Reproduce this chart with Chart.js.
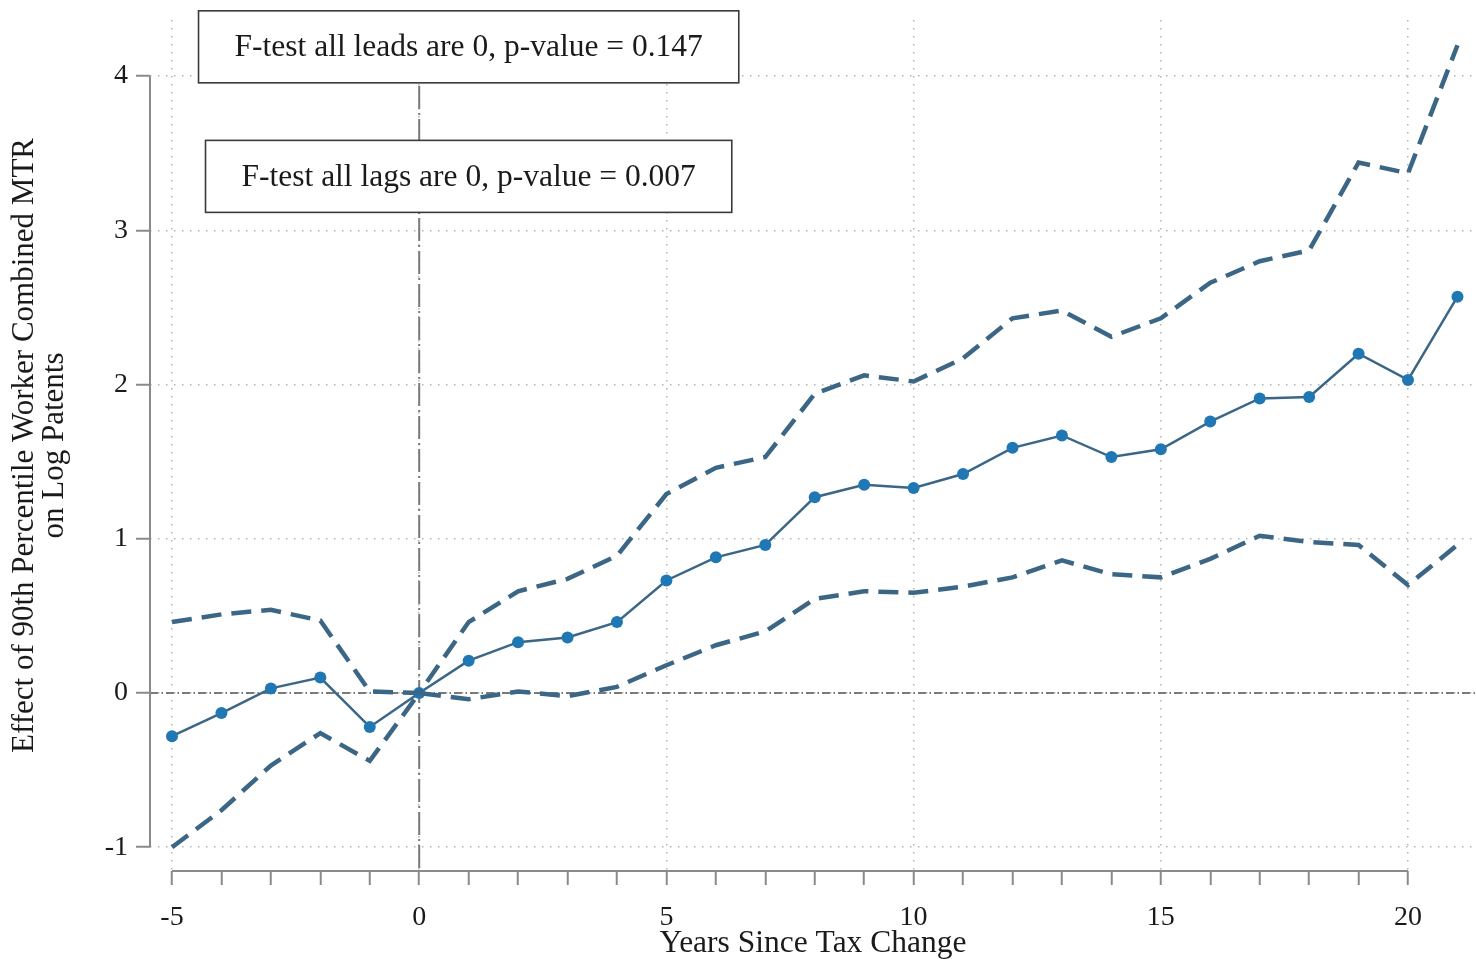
<!DOCTYPE html>
<html>
<head>
<meta charset="utf-8">
<script src="https://cdn.jsdelivr.net/npm/chart.js@4"></script>
<style>
  html, body { margin: 0; padding: 0; background: #ffffff; }
  canvas { display: block; }
</style>
</head>
<body>
<canvas id="chart" width="1476" height="959"></canvas>
<script>
// Event-study estimates: effect of the 90th percentile worker's combined MTR on log patents
const years = [-5, -4, -3, -2, -1, 0, 1, 2, 3, 4, 5, 6, 7, 8, 9, 10, 11, 12, 13, 14, 15, 16, 17, 18, 19, 20, 21];
const estimate = [-0.28, -0.13, 0.03, 0.10, -0.22, 0.00, 0.21, 0.33, 0.36, 0.46, 0.73, 0.88, 0.96, 1.27, 1.35, 1.33, 1.42, 1.59, 1.67, 1.53, 1.58, 1.76, 1.91, 1.92, 2.20, 2.03, 2.57];
const upperCI = [0.46, 0.51, 0.54, 0.47, 0.01, 0.00, 0.46, 0.66, 0.74, 0.89, 1.29, 1.46, 1.53, 1.94, 2.06, 2.02, 2.17, 2.43, 2.48, 2.31, 2.43, 2.66, 2.80, 2.87, 3.44, 3.37, 4.20];
const lowerCI = [-1.00, -0.76, -0.47, -0.26, -0.44, 0.00, -0.04, 0.01, -0.02, 0.04, 0.18, 0.31, 0.40, 0.61, 0.66, 0.65, 0.69, 0.75, 0.86, 0.77, 0.75, 0.87, 1.02, 0.98, 0.96, 0.70, 0.96];

// Axis ticks
const xTicks = [-5, -4, -3, -2, -1, 0, 1, 2, 3, 4, 5, 6, 7, 8, 9, 10, 11, 12, 13, 14, 15, 16, 17, 18, 19, 20];
const xLabelTicks = [-5, 0, 5, 10, 15, 20];
const yTicks = [-1, 0, 1, 2, 3, 4];

// Axis titles and test notes
const xTitle = 'Years Since Tax Change';
const yTitle = ['Effect of 90th Percentile Worker Combined MTR', 'on Log Patents'];
const notes = [
  { text: 'F-test all leads are 0, p-value = 0.147', x: 1, y: 4.19 },
  { text: 'F-test all lags are 0, p-value = 0.007', x: 1, y: 3.35 }
];

const SERIF = '"Liberation Serif", "DejaVu Serif", serif';
const AXIS_GREY = '#8a8a8a';
const GRID_GREY = '#b4b4b4';
const LINE_BLUE = '#3b6686';
const POINT_BLUE = '#1f77b4';

// Reference lines at zero, plus the Stata-style axis lines that only span the tick range
const frame = {
  id: 'frame',
  beforeDatasetsDraw(chart) {
    const { ctx, chartArea: a, scales: { x, y } } = chart;
    ctx.save();
    ctx.strokeStyle = '#7a7a7a';
    ctx.lineWidth = 2;
    // horizontal y = 0
    ctx.setLineDash([8, 3.5, 1.5, 3]);
    ctx.beginPath();
    ctx.moveTo(a.left, y.getPixelForValue(0));
    ctx.lineTo(a.right, y.getPixelForValue(0));
    ctx.stroke();
    // vertical x = 0
    ctx.setLineDash([23, 4, 2, 4]);
    ctx.beginPath();
    ctx.moveTo(x.getPixelForValue(0), a.top);
    ctx.lineTo(x.getPixelForValue(0), a.bottom);
    ctx.stroke();
    ctx.restore();
  },
  afterDraw(chart) {
    const { ctx, chartArea: a, scales: { x, y } } = chart;
    ctx.save();
    ctx.strokeStyle = AXIS_GREY;
    ctx.lineWidth = 2;
    ctx.setLineDash([]);
    ctx.beginPath();
    ctx.moveTo(a.left, y.getPixelForValue(yTicks[0]));
    ctx.lineTo(a.left, y.getPixelForValue(yTicks[yTicks.length - 1]));
    ctx.moveTo(x.getPixelForValue(xTicks[0]), a.bottom);
    ctx.lineTo(x.getPixelForValue(xTicks[xTicks.length - 1]), a.bottom);
    ctx.stroke();

    // boxed test notes
    ctx.font = '31.5px ' + SERIF;
    ctx.textAlign = 'center';
    ctx.textBaseline = 'middle';
    notes.forEach(n => {
      const cx = x.getPixelForValue(n.x);
      const cy = y.getPixelForValue(n.y);
      const w = ctx.measureText(n.text).width + 72;
      const h = 72;
      ctx.fillStyle = '#ffffff';
      ctx.fillRect(cx - w / 2, cy - h / 2, w, h);
      ctx.strokeStyle = '#3a3a3a';
      ctx.lineWidth = 1.6;
      ctx.strokeRect(cx - w / 2, cy - h / 2, w, h);
      ctx.fillStyle = '#1a1a1a';
      ctx.fillText(n.text, cx, cy + 1);
    });
    ctx.restore();
  }
};

new Chart(document.getElementById('chart'), {
  type: 'line',
  data: {
    labels: years,
    datasets: [
      {
        label: 'Upper 95% CI',
        data: years.map((yr, i) => ({ x: yr, y: upperCI[i] })),
        borderColor: LINE_BLUE,
        borderWidth: 4.5,
        borderDash: [20, 10],
        pointRadius: 0,
        fill: false,
        tension: 0
      },
      {
        label: 'Lower 95% CI',
        data: years.map((yr, i) => ({ x: yr, y: lowerCI[i] })),
        borderColor: LINE_BLUE,
        borderWidth: 4.5,
        borderDash: [20, 10],
        pointRadius: 0,
        fill: false,
        tension: 0
      },
      {
        label: 'Estimate',
        data: years.map((yr, i) => ({ x: yr, y: estimate[i] })),
        borderColor: LINE_BLUE,
        borderWidth: 2.5,
        pointRadius: 6,
        pointBackgroundColor: POINT_BLUE,
        pointBorderColor: POINT_BLUE,
        pointBorderWidth: 0,
        fill: false,
        tension: 0
      }
    ]
  },
  options: {
    responsive: false,
    animation: false,
    devicePixelRatio: 1,
    layout: { autoPadding: false, padding: { top: 20, right: 0, left: 0, bottom: 0 } },
    plugins: {
      legend: { display: false },
      tooltip: { enabled: false }
    },
    scales: {
      x: {
        type: 'linear',
        min: -5.445,
        max: 21.375,
        afterBuildTicks: s => { s.ticks = xTicks.map(v => ({ value: v })); },
        afterFit: s => { s.height = 88; s.paddingLeft = 0; s.paddingRight = 0; },
        border: { display: false, dash: [1.5, 6.5] },
        grid: {
          color: c => (c.tick && xLabelTicks.includes(c.tick.value)) ? GRID_GREY : 'rgba(0,0,0,0)',
          lineWidth: 1.5,
          drawTicks: true,
          tickLength: 14,
          tickColor: AXIS_GREY,
          tickWidth: 2,
          tickBorderDash: []
        },
        ticks: {
          autoSkip: false,
          maxRotation: 0,
          padding: 16,
          color: '#1a1a1a',
          font: { family: SERIF, size: 28 },
          callback: v => xLabelTicks.includes(v) ? String(v) : ''
        },
        title: {
          display: true,
          text: xTitle,
          color: '#1a1a1a',
          font: { family: SERIF, size: 31.5, lineHeight: 1 },
          padding: { top: 0, bottom: 0 }
        }
      },
      y: {
        type: 'linear',
        min: -1.154,
        max: 4.364,
        afterBuildTicks: s => { s.ticks = yTicks.map(v => ({ value: v })); },
        afterFit: s => { s.width = 150; s.paddingTop = 0; s.paddingBottom = 0; },
        border: { display: false, dash: [1.5, 6.5] },
        grid: {
          color: GRID_GREY,
          lineWidth: 1.5,
          drawTicks: true,
          tickLength: 14,
          tickColor: AXIS_GREY,
          tickWidth: 2,
          tickBorderDash: []
        },
        ticks: {
          padding: 8,
          color: '#1a1a1a',
          font: { family: SERIF, size: 28 },
          callback: v => String(v)
        },
        title: {
          display: true,
          text: yTitle,
          color: '#1a1a1a',
          font: { family: SERIF, size: 31, lineHeight: 30 / 31 },
          padding: { top: 10, bottom: 0 }
        }
      }
    }
  },
  plugins: [frame]
});
</script>
</body>
</html>
